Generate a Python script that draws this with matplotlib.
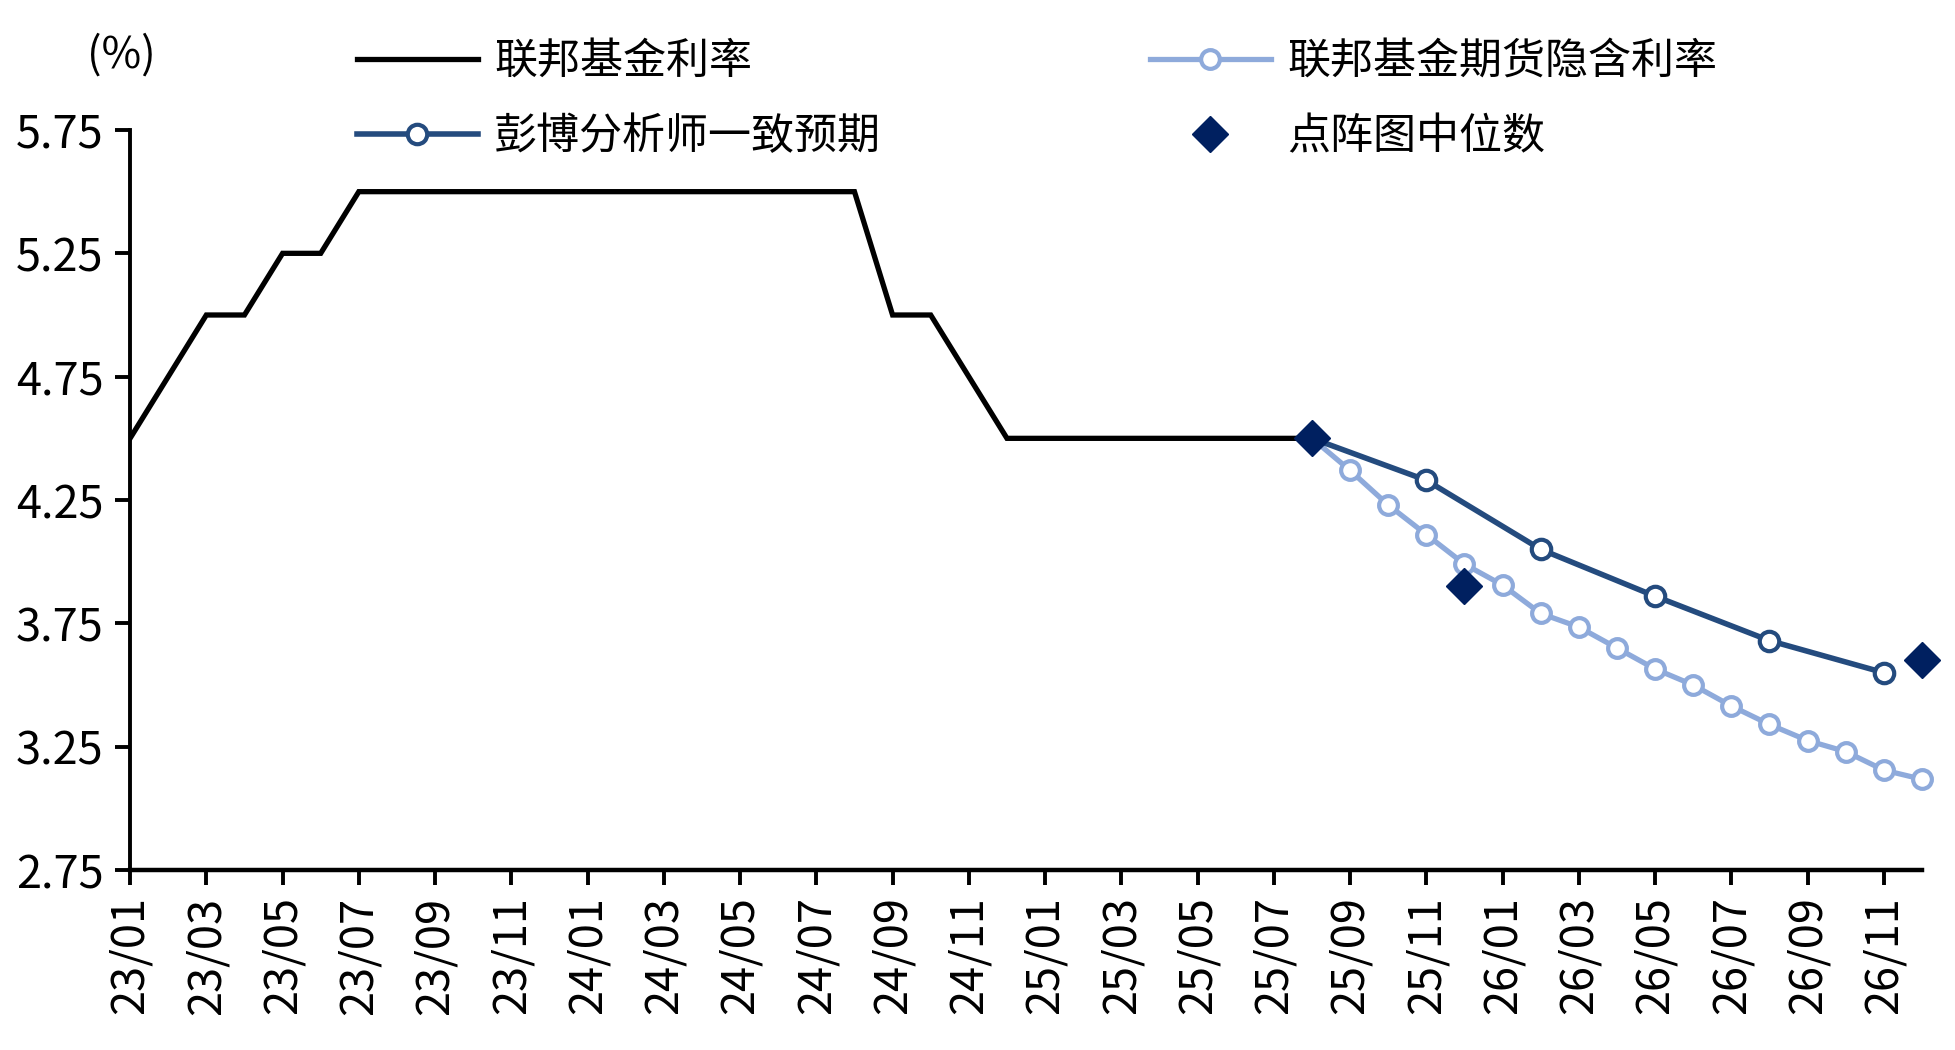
import matplotlib
matplotlib.use("Agg")
import matplotlib.pyplot as plt
import numpy as np

plt.rcParams["font.family"] = ["Noto Sans CJK SC", "DejaVu Sans"]

# 月份标签 (23/01 .. 26/12)
mois = ["23/01", "23/02", "23/03", "23/04", "23/05", "23/06", "23/07", "23/08",
        "23/09", "23/10", "23/11", "23/12", "24/01", "24/02", "24/03", "24/04",
        "24/05", "24/06", "24/07", "24/08", "24/09", "24/10", "24/11", "24/12",
        "25/01", "25/02", "25/03", "25/04", "25/05", "25/06", "25/07", "25/08",
        "25/09", "25/10", "25/11", "25/12", "26/01", "26/02", "26/03", "26/04",
        "26/05", "26/06", "26/07", "26/08", "26/09", "26/10", "26/11", "26/12"]

# 联邦基金利率 (23/01 .. 25/08)
taux_fed = [4.5, 4.75, 5.0, 5.0, 5.25, 5.25, 5.5, 5.5, 5.5, 5.5, 5.5, 5.5,
            5.5, 5.5, 5.5, 5.5, 5.5, 5.5, 5.5, 5.5, 5.0, 5.0, 4.75, 4.5,
            4.5, 4.5, 4.5, 4.5, 4.5, 4.5, 4.5, 4.5]

# 联邦基金期货隐含利率 (25/08 .. 26/12)
futures_mois = mois[31:]
futures = [4.5, 4.37, 4.23, 4.11, 3.99, 3.905, 3.79, 3.735, 3.65, 3.565,
           3.5, 3.415, 3.34, 3.275, 3.23, 3.155, 3.118]

# 彭博分析师一致预期
bbg_mois = ["25/08", "25/11", "26/02", "26/05", "26/08", "26/11"]
bbg = [4.5, 4.33, 4.05, 3.86, 3.68, 3.55]

# 点阵图中位数
dot_mois = ["25/08", "25/12", "26/12"]
dot = [4.5, 3.9, 3.6]

idx = {m: i for i, m in enumerate(mois)}

fig = plt.figure(figsize=(19.56, 10.5), dpi=100)
ax = fig.add_axes([0.0665, 0.1714, 0.9161, 0.7048])

c_dark = "#244B7E"
c_light = "#8EAADB"
c_navy = "#002060"

l1, = ax.plot(range(len(taux_fed)), taux_fed, color="black", lw=3.8,
              solid_joinstyle="miter", zorder=3, label="联邦基金利率")
l3, = ax.plot([idx[m] for m in futures_mois], futures, color=c_light, lw=3.8,
              marker="o", ms=13.5, mfc="white", mec=c_light, mew=3.0,
              zorder=4, clip_on=False, label="联邦基金期货隐含利率")
l2, = ax.plot([idx[m] for m in bbg_mois], bbg, color=c_dark, lw=4.0,
              marker="o", ms=14, mfc="white", mec=c_dark, mew=3.0,
              zorder=5, clip_on=False, label="彭博分析师一致预期")
l4, = ax.plot([idx[m] for m in dot_mois], dot, ls="none", marker="D", ms=18,
              color=c_navy, zorder=6, clip_on=False, label="点阵图中位数")

ax.set_xlim(0, 47)
ax.set_ylim(2.75, 5.75)
ax.set_yticks(np.arange(2.75, 5.76, 0.5))
ax.set_yticklabels([f"{v:.2f}" for v in np.arange(2.75, 5.76, 0.5)])
ax.set_xticks(range(0, 47, 2))
ax.set_xticklabels(mois[0:47:2], rotation=90)

for s in ["top", "right"]:
    ax.spines[s].set_visible(False)
ax.spines["left"].set_linewidth(2.8)
ax.spines["bottom"].set_linewidth(3.2)
ax.tick_params(axis="both", labelsize=32.5, width=2.8, length=11, pad=8)

fig.text(121 / 1956, 1 - 56 / 1050, "(%)", fontsize=31, ha="center", va="center")

fig.legend(handles=[l1, l2, l3, l4], ncol=2, loc="upper left",
           bbox_to_anchor=(357 / 1956, 1 - 40 / 1050), frameon=False,
           fontsize=31, handlelength=2.8, handletextpad=0.38,
           columnspacing=6.25, labelspacing=0.72, numpoints=1,
           borderaxespad=0, borderpad=0)

fig.savefig("out.png", dpi=100)
